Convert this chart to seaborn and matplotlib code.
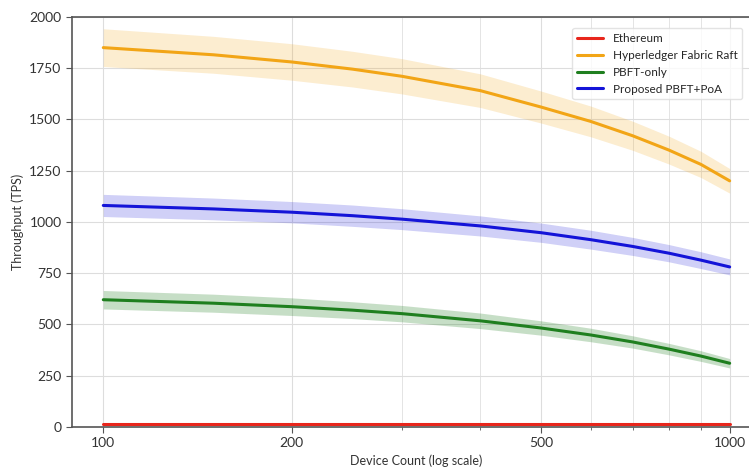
import matplotlib
matplotlib.use("Agg")
import matplotlib.pyplot as plt
import numpy as np
import pandas as pd
import seaborn as sns
from matplotlib.ticker import FixedLocator, NullFormatter

# device counts (x axis)
devices = [100, 150, 200, 250, 300, 400, 500, 600, 700, 800, 900, 1000]

# mean throughput per protocol (TPS)
ethereum = [15, 15, 15, 15, 15, 15, 15, 15, 15, 15, 15, 15]
fabric_raft = [1850, 1815, 1780, 1745, 1710, 1640, 1560, 1490, 1420, 1350, 1280, 1200]
pbft_only = [620, 603, 586, 569, 552, 517, 482, 448, 414, 379, 345, 310]
pbft_poa = [1080, 1063, 1047, 1030, 1013, 980, 947, 913, 880, 847, 813, 780]

# half-widths of the shaded bands
ethereum_err = [3, 3, 3, 3, 3, 3, 3, 3, 3, 3, 3, 3]
fabric_raft_err = [92, 90, 89, 87, 86, 82, 78, 75, 71, 68, 64, 60]
pbft_only_err = [45, 44, 43, 41, 40, 38, 35, 33, 30, 28, 26, 23]
pbft_poa_err = [54, 53, 52, 52, 51, 49, 47, 46, 44, 42, 41, 39]

labels = ["Ethereum", "Hyperledger Fabric Raft", "PBFT-only", "Proposed PBFT+PoA"]
colors = ["#e8261c", "#f2a516", "#1f7f1f", "#1414d8"]
band_alpha = [0.25, 0.2, 0.25, 0.2]

series = [ethereum, fabric_raft, pbft_only, pbft_poa]
errors = [ethereum_err, fabric_raft_err, pbft_only_err, pbft_poa_err]

frames = []
for name, vals, err in zip(labels, series, errors):
    frames.append(pd.DataFrame({"devices": devices, "tps": vals, "err": err, "protocol": name}))
df = pd.concat(frames, ignore_index=True)

sns.set_style("whitegrid")
plt.rcParams["font.family"] = ["Lato", "DejaVu Sans"]

fig = plt.figure(figsize=(7.49, 4.69), dpi=100)
ax = fig.add_axes([0.096, 0.09, 0.92, 0.874])

for name, color, a in zip(labels, colors, band_alpha):
    d = df[df["protocol"] == name]
    ax.fill_between(d["devices"], d["tps"] - d["err"], d["tps"] + d["err"],
                    color=color, alpha=a, linewidth=0)

sns.lineplot(data=df, x="devices", y="tps", hue="protocol", palette=colors,
             hue_order=labels, linewidth=2.2, ax=ax)

ax.set_xscale("log")
ax.set_xlim(89.1, 1122)
ax.set_ylim(0, 2000)
ax.xaxis.set_major_locator(FixedLocator([100, 200, 500, 1000]))
ax.set_xticklabels(["100", "200", "500", "1000"])
ax.xaxis.set_minor_locator(FixedLocator([300, 400, 600, 700, 800, 900]))
ax.xaxis.set_minor_formatter(NullFormatter())
ax.set_yticks([0, 250, 500, 750, 1000, 1250, 1500, 1750, 2000])

ax.grid(True, which="major", color="#dddddd", linewidth=0.8)
ax.grid(True, which="minor", axis="x", color="#e4e4e4", linewidth=0.7)
ax.tick_params(axis="both", which="major", length=4, width=0.8, color="#555555",
               labelsize=10, labelcolor="#333333", bottom=True, left=True)
ax.tick_params(axis="x", which="minor", length=2, bottom=True, color="#555555")
for sp in ax.spines.values():
    sp.set_color("#555555")
    sp.set_linewidth(1.2)

ax.set_xlabel("Device Count (log scale)", fontsize=9, color="#333333")
ax.set_ylabel("Throughput (TPS)", fontsize=9, color="#333333")

leg = ax.legend(loc="upper right", bbox_to_anchor=(0.981, 0.987), fontsize=8.5,
                frameon=True, handlelength=2.2)
leg.get_frame().set_edgecolor("#dddddd")
leg.set_title(None)

fig.savefig("out.png", dpi=100)
